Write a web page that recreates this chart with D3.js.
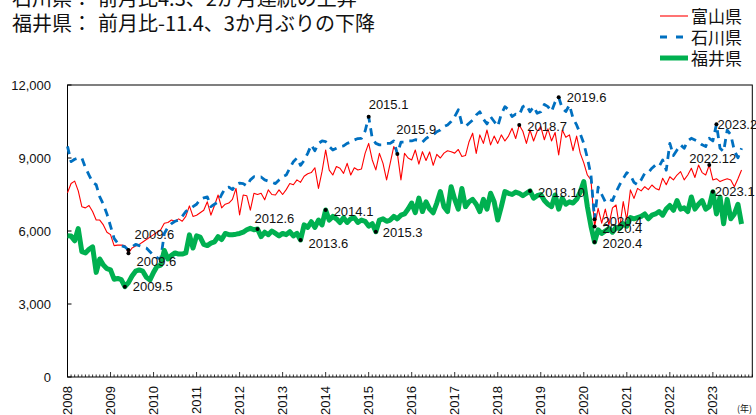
<!DOCTYPE html>
<html>
<head>
<meta charset="utf-8">
<script src="https://cdn.jsdelivr.net/npm/d3@7"></script>
<style>
  body { margin: 0; background: #fff; }
  text { font-family: "Liberation Sans", Arial, sans-serif; fill: #111; }
  .jp { font-family: "Noto Sans CJK JP", sans-serif; }
</style>
</head>
<body>
<svg id="chart" width="756" height="415"></svg>
<script>
// monthly values, 2008.1 - 2023.9
const years = [2008, 2009, 2010, 2011, 2012, 2013, 2014, 2015, 2016, 2017, 2018, 2019, 2020, 2021, 2022, 2023];
const yTicks = [0, 3000, 6000, 9000, 12000];

const toyama = [
  7570, 7950, 8050, 7650, 7000, 6950, 7050, 6800, 6450, 6450, 6250, 5950,
  5850, 5400, 5420, 5420, 5400, 5085, 5300, 5380, 5450, 5550, 5650, 5750,
  5850, 5950, 6050, 6320, 6350, 6450, 6400, 6500, 6400, 6600, 7030, 6600,
  6650, 6750, 6850, 7200, 6650, 7050, 7480, 6950, 7100, 7150, 7300, 7750,
  6660, 7480, 7450, 6860, 7550, 7500, 7550, 7280, 7690, 7500, 7480, 7690,
  7500, 7700, 7950, 7900, 8100, 8000, 8250, 8350, 8400, 8600, 7750, 8450,
  9330, 8500, 8300, 8650, 8580, 8370, 8780, 8300, 8600, 8510, 8550, 9190,
  9600, 8920, 8510, 9190, 8780, 8100, 8780, 9470, 9190, 8100, 9190, 9000,
  8920, 9330, 8750, 9260, 8900, 9250, 8700, 9150, 9000, 9200, 9300, 9260,
  9200, 9350, 9060, 9100, 9670, 10020, 9190, 9950, 9600, 10150, 9540, 9900,
  9600, 9950, 9700, 9900, 10220, 9800, 10356, 10100, 9600, 10150, 9700, 10100,
  10290, 9750, 10200, 9700, 10050, 9130, 10150, 9850, 9950, 9300, 9900, 9200,
  8800, 8300, 8100, 6180, 6930, 6320, 6900, 6250, 6950, 7070, 6110, 7210,
  6450, 7690, 7340, 7750, 7650, 7820, 7700, 7890, 7750, 7690, 8170, 7900,
  8230, 8100, 8300, 8440, 8100, 8300, 8580, 8200, 8710, 8400, 8300, 8710,
  8100, 8150, 8030, 8100, 8150, 8100, 7820, 8150, 8510
];
const ishikawa = [
  9480, 8850, 8950, 9000, 9000, 8600, 8300, 8000, 7900, 7400, 7100, 6700,
  6200, 5700, 5500, 5400, 5350, 5220, 5350, 5450, 5400, 5350, 5300, 5150,
  5000, 4900, 4850, 5900, 6150, 6300, 6400, 6450, 6600, 6800, 6900, 7000,
  7100, 7300, 7360, 7400, 7000, 7100, 7200, 7500, 7770, 7800, 7700, 7900,
  7970, 7950, 7850, 8100, 8230, 8200, 8220, 8100, 8050, 8000, 7950, 8100,
  8230, 8300, 8580, 8850, 9000, 8700, 8900, 9190, 9540, 9300, 9600, 9700,
  9670, 9470, 9330, 9400, 9470, 9500, 9600, 9650, 9740, 9800, 9810, 10100,
  10700, 9810, 9600, 9540, 9540, 9600, 9600, 9700, 9165, 9650, 9650, 9700,
  9700, 9750, 9730, 9650, 9800, 9900, 9950, 10080, 10150, 10290, 10360, 10500,
  10700, 10980, 10400, 10290, 10430, 10560, 10770, 10900, 10600, 10400, 10700, 10500,
  10300, 10800, 11110, 10980, 10700, 10800, 10770, 11110, 11180, 10900, 11110, 10840,
  10900, 11200, 11110, 10910, 11300, 11495, 11040, 10910, 11180, 10630, 10360, 10000,
  9600, 9000, 8300, 6480, 7800, 7500, 7200, 7300, 7250, 7600, 7900, 8150,
  8400, 8300, 8000, 7900, 8100, 8370, 8400, 8580, 8710, 8650, 8920, 8500,
  9600, 9100, 9330, 9540, 9400, 9700, 9810, 9740, 9670, 9540, 9470, 9810,
  9700, 10385, 9400, 9260, 10150, 9950, 9300, 9010, 9400
];
const fukui = [
  5800, 5790, 5600, 6100, 5150, 5100, 5250, 5350, 4300, 4850, 4600, 4450,
  4400, 4020, 4050, 4000, 3711, 3880, 4150, 4350, 4400, 4350, 4100, 3990,
  4300, 4550, 4600, 5200, 4850, 5000, 5100, 5050, 5050, 5100, 5840, 5300,
  5800, 5750, 5450, 5400, 5500, 5550, 5770, 5650, 5900, 5850, 5850, 5870,
  5900, 5950, 6050, 6110, 6050, 6083, 5770, 5950, 5850, 6000, 5900, 5800,
  5900, 5850, 5970, 5800, 5900, 5631, 6250, 6150, 6380, 6150, 6450, 6250,
  6864, 6450, 6600, 6500, 6350, 6550, 6350, 6500, 6550, 6350, 6450, 6400,
  6200, 6300, 5973, 6450, 6500, 6400, 6450, 6600, 6500, 6650, 6700, 6900,
  7150, 6750, 7350, 6800, 7200, 6900, 6750, 7150, 7620, 7000, 6800, 7820,
  7300, 6900, 7750, 7000, 7200, 7300, 7100, 6800, 7300, 6900, 7550, 7200,
  6450, 7000, 7620, 7550, 7500, 7600, 7550, 7450, 7550, 7645, 7350, 7450,
  7500, 7250, 7100, 7000, 7480, 6900, 7350, 7100, 7200, 7150, 7300, 7600,
  8030, 7000, 6200, 5548, 6050, 5900, 6000, 6100, 5950, 6150, 6100, 6300,
  6200, 6550, 6500, 6550, 6600, 6700, 6500, 6650, 6700, 6800, 6650, 6900,
  7050, 6850, 7250, 6900, 6950, 6800, 7400, 6900, 7100, 7250, 6900, 7000,
  7616, 6700, 7400, 6300, 7300, 6500, 6700, 7100, 6290
];
const seriesNames = ['富山県', '石川県', '福井県'];
const headlines = [
  ['石川県：', '前月比4.3、2か月連続の上昇'],
  ['福井県：', '前月比-11.4、3か月ぶりの下降']
];
// marked points: [series, year.month]
const marks = [
  ['石川県', '2009.6'], ['富山県', '2009.6'], ['福井県', '2009.5'],
  ['福井県', '2012.6'], ['福井県', '2013.6'], ['福井県', '2014.1'],
  ['石川県', '2015.1'], ['福井県', '2015.3'], ['石川県', '2015.9'],
  ['富山県', '2018.7'], ['石川県', '2019.6'], ['福井県', '2018.10'],
  ['石川県', '2020.4'], ['富山県', '2020.4'], ['福井県', '2020.4'],
  ['富山県', '2022.12'], ['福井県', '2023.1'], ['石川県', '2023.2']
];

const svg = d3.select('#chart');
const margin = {top: 85, right: 4, left: 67.5, bottom: 38};
const x = d3.scaleLinear().domain([0, years.length * 12 - 1]).range([margin.left, 752.3]);
const y = d3.scaleLinear().domain([0, 12000]).range([377, margin.top]);

const values = {'富山県': toyama, '石川県': ishikawa, '福井県': fukui};
const styles = {
  '富山県': {color: '#ff0000', width: 1.1, dash: null},
  '石川県': {color: '#0070c0', width: 2.8, dash: '8,6'},
  '福井県': {color: '#00b050', width: 5, dash: null}
};

// headlines
headlines.forEach((h, k) => {
  const t = svg.append('text').attr('class', 'jp').attr('y', 6 + k * 25).style('font-size', '20px');
  t.append('tspan').attr('x', 12).text(h[0]);
  t.append('tspan').attr('x', 98).text(h[1]);
});

// frame
svg.append('rect')
  .attr('x', x.range()[0]).attr('y', y.range()[1])
  .attr('width', x.range()[1] - x.range()[0]).attr('height', y.range()[0] - y.range()[1])
  .attr('fill', 'none').attr('stroke', '#000').attr('stroke-width', 1);

// y axis
yTicks.forEach(v => {
  svg.append('line').attr('x1', margin.left).attr('x2', margin.left + 4)
    .attr('y1', y(v)).attr('y2', y(v)).attr('stroke', '#000');
  svg.append('text').attr('x', 51).attr('y', y(v)).attr('dy', '0.35em')
    .attr('text-anchor', 'end').style('font-size', '13px').text(d3.format(',')(v));
});

// x axis: month ticks and year labels
d3.range(years.length * 12).forEach(i => {
  svg.append('line').attr('x1', x(i)).attr('x2', x(i))
    .attr('y1', 377).attr('y2', i % 12 === 0 ? 372 : 374.5)
    .attr('stroke', '#000').attr('stroke-width', 0.8);
});
years.forEach((yr, k) => {
  svg.append('text')
    .attr('transform', `translate(${x(k * 12)},386) rotate(-90)`)
    .attr('dy', '0.35em').attr('text-anchor', 'end')
    .style('font-size', '13px').text(yr);
});
svg.append('text').attr('class', 'jp').attr('x', 737).attr('y', 412)
  .style('font-size', '9px').text('(年)');

// lines
const line = d3.line().x((d, i) => x(i)).y(d => y(d)).curve(d3.curveLinear);
seriesNames.forEach(name => {
  const s = styles[name];
  svg.append('path').datum(values[name])
    .attr('d', line).attr('fill', 'none')
    .attr('stroke', s.color).attr('stroke-width', s.width)
    .attr('stroke-dasharray', s.dash)
    .attr('stroke-linejoin', 'round');
});

// marked points
const offsets = {
  '石川県2009.6': [6, -16], '富山県2009.6': [8, 8], '福井県2009.5': [8, 0],
  '福井県2012.6': [-3, -11], '福井県2013.6': [8, 3], '福井県2014.1': [8, 1],
  '石川県2015.1': [0, -12], '福井県2015.3': [7, 1], '石川県2015.9': [-1, -25],
  '富山県2018.7': [8, 1], '石川県2019.6': [8, 0], '福井県2018.10': [8, 1],
  '石川県2020.4': [8, 2], '富山県2020.4': [8, 2], '福井県2020.4': [8, 1],
  '富山県2022.12': [-20, -7], '福井県2023.1': [2, 0], '石川県2023.2': [1, 0]
};
marks.forEach(([name, label]) => {
  const [yr, mo] = label.split('.').map(Number);
  const i = (yr - years[0]) * 12 + mo - 1;
  const cx = x(i), cy = y(values[name][i]);
  const off = offsets[name + label];
  svg.append('circle').attr('cx', cx).attr('cy', cy).attr('r', 2).attr('fill', '#000');
  svg.append('text').attr('x', cx + off[0]).attr('y', cy + off[1]).attr('dy', '0.35em')
    .style('font-size', '13px').text(label);
});

// legend
seriesNames.forEach((name, k) => {
  const s = styles[name];
  const ly = 16 + k * 21;
  svg.append('line').attr('x1', 660).attr('x2', 688).attr('y1', ly).attr('y2', ly)
    .attr('stroke', s.color).attr('stroke-width', s.width)
    .attr('stroke-dasharray', s.dash ? '7,9' : null);
  svg.append('text').attr('class', 'jp').attr('x', 691).attr('y', ly + 1).attr('dy', '0.35em')
    .style('font-size', '17px').text(name);
});
</script>
</body>
</html>
